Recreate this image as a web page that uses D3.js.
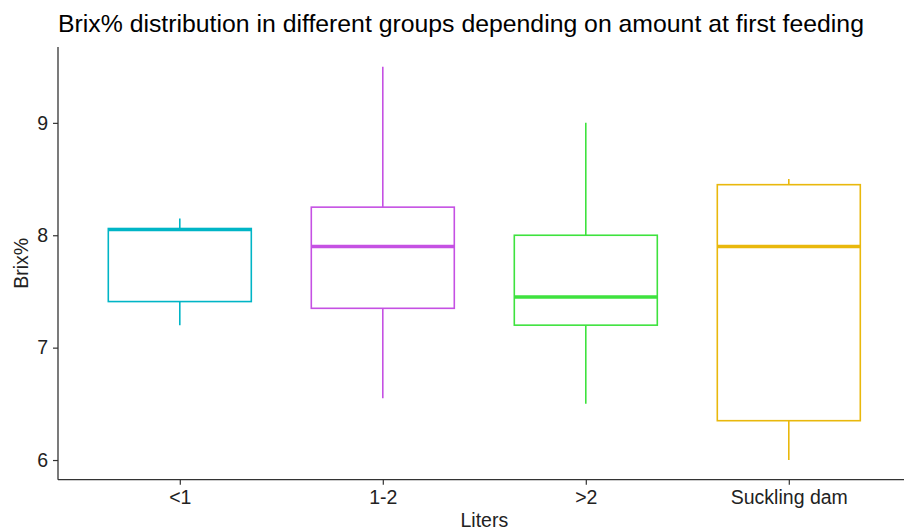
<!DOCTYPE html>
<html>
<head>
<meta charset="utf-8">
<script src="https://cdn.jsdelivr.net/npm/d3@7"></script>
<style>
  html, body { margin: 0; padding: 0; background: #fff; }
  svg { display: block; font-family: "Liberation Sans", Arial, Helvetica, sans-serif; }
</style>
</head>
<body>
<svg id="chart" width="904" height="530"></svg>
<script>
const categories = ["<1", "1-2", ">2", "Suckling dam"];
const lowerWhisker = [7.2, 6.55, 6.5, 6.0];
const q1 = [7.41, 7.35, 7.2, 6.35];
const median = [8.05, 7.9, 7.45, 7.9];
const q3 = [8.06, 8.25, 8.0, 8.45];
const upperWhisker = [8.15, 9.5, 9.0, 8.5];
const colors = ["#00B5C6", "#C551E3", "#3EE23E", "#E9B80C"];
const yTicks = [6, 7, 8, 9];
const titleText = "Brix% distribution in different groups depending on amount at first feeding";
const xTitle = "Liters";
const yTitle = "Brix%";

const svg = d3.select("#chart");
const margin = { left: 58, top: 47 };
const panelBottom = 479.7;
const step = 203;
const panelRight = margin.left + step * 4.2;

const x = d3.scalePoint().domain(categories).range([margin.left + 0.6 * step, margin.left + 3.6 * step]);
const y = d3.scaleLinear().domain([5.825, 9.675]).range([panelBottom, margin.top]);
const boxW = 143;
const FONT = "Liberation Sans, Arial, sans-serif";

// title
svg.append("text")
  .attr("x", 58).attr("y", 32)
  .attr("font-size", 24.8)
  .attr("fill", "#000")
  .text(titleText);

const data = categories.map((c, i) => ({
  c, lo: lowerWhisker[i], q1: q1[i], med: median[i], q3: q3[i], hi: upperWhisker[i], col: colors[i]
}));

const g = svg.append("g");
const boxes = g.selectAll("g.box").data(data).join("g").attr("class", "box");

boxes.append("line")
  .attr("x1", d => x(d.c)).attr("x2", d => x(d.c))
  .attr("y1", d => y(d.hi)).attr("y2", d => y(d.q3))
  .attr("stroke", d => d.col).attr("stroke-width", 1.6);
boxes.append("line")
  .attr("x1", d => x(d.c)).attr("x2", d => x(d.c))
  .attr("y1", d => y(d.q1)).attr("y2", d => y(d.lo))
  .attr("stroke", d => d.col).attr("stroke-width", 1.6);
boxes.append("rect")
  .attr("x", d => x(d.c) - boxW / 2).attr("width", boxW)
  .attr("y", d => y(d.q3)).attr("height", d => y(d.q1) - y(d.q3))
  .attr("fill", "#fff").attr("stroke", d => d.col).attr("stroke-width", 1.6);
boxes.append("line")
  .attr("x1", d => x(d.c) - boxW / 2).attr("x2", d => x(d.c) + boxW / 2)
  .attr("y1", d => y(d.med)).attr("y2", d => y(d.med))
  .attr("stroke", d => d.col).attr("stroke-width", 3.4);

// axes
const axisColor = "#333";
const yAxis = svg.append("g").attr("transform", `translate(${margin.left},0)`)
  .call(d3.axisLeft(y).tickValues(yTicks).tickSize(5).tickPadding(5).tickFormat(d3.format("d")));
yAxis.select(".domain").remove();
yAxis.selectAll(".tick line").attr("stroke", axisColor).attr("stroke-width", 1.2);
yAxis.selectAll(".tick text").attr("font-size", 19.5).attr("fill", "#222").attr("font-family", FONT);
svg.append("line").attr("x1", margin.left).attr("x2", margin.left)
  .attr("y1", margin.top).attr("y2", panelBottom)
  .attr("stroke", axisColor).attr("stroke-width", 1.3);

const xAxis = svg.append("g").attr("transform", `translate(0,${panelBottom})`)
  .call(d3.axisBottom(x).tickSize(5).tickPadding(5));
xAxis.select(".domain").remove();
xAxis.selectAll(".tick line").attr("stroke", axisColor).attr("stroke-width", 1.2);
xAxis.selectAll(".tick text").attr("font-size", 19.5).attr("fill", "#222").attr("font-family", FONT);
svg.append("line").attr("x1", margin.left).attr("x2", panelRight)
  .attr("y1", panelBottom).attr("y2", panelBottom)
  .attr("stroke", axisColor).attr("stroke-width", 1.3);

svg.append("text")
  .attr("x", x(categories[1]) + step / 2).attr("y", 527)
  .attr("text-anchor", "middle").attr("font-size", 19.5).attr("fill", "#222")
  .text(xTitle);

svg.append("text")
  .attr("transform", `translate(28,${(margin.top + panelBottom) / 2}) rotate(-90)`)
  .attr("text-anchor", "middle").attr("font-size", 19.5).attr("fill", "#222")
  .text(yTitle);
</script>
</body>
</html>
